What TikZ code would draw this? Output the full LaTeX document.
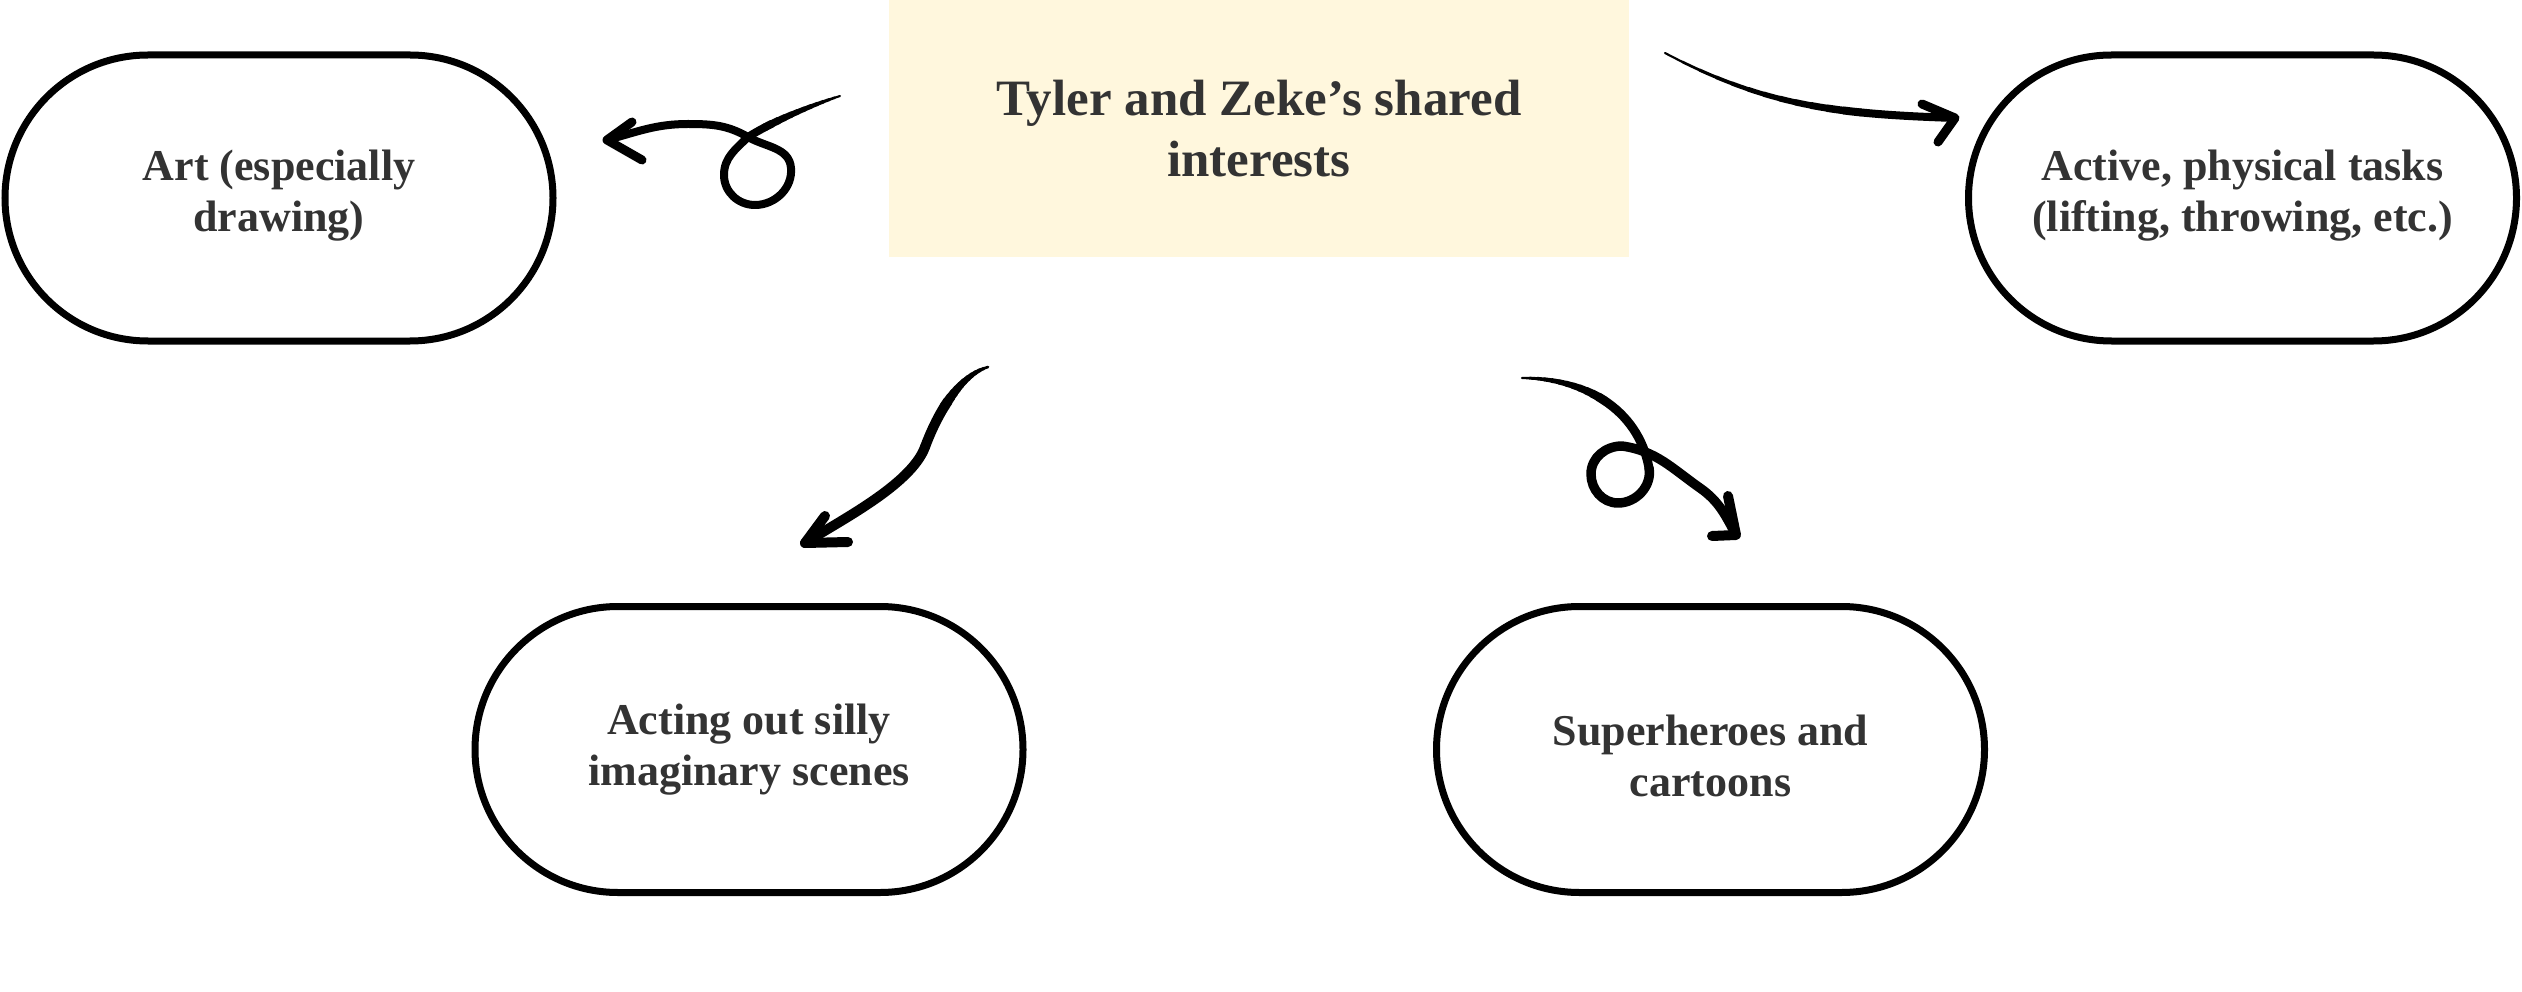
\documentclass[tikz,border=0pt]{standalone}
\usepackage{fontspec}
\setmainfont{Liberation Serif}
\definecolor{txt}{HTML}{333333}
\definecolor{cream}{HTML}{FFF7DD}
% tapered brush stroke along one cubic Bezier: #1 start, #2 ctrl1, #3 ctrl2, #4 end, #5 width, #6 taper fraction
\newcommand\brushcurve[6]{%
  \foreach \i in {1,...,12} {%
    \pgfmathsetmacro\ta{(\i-1)/12*#6}%
    \pgfmathsetmacro\tb{\i/12*#6}%
    \pgfmathsetmacro\ww{#5*(0.2+0.8*\i/12)}%
    \pgfsetlinewidth{\ww pt}%
    \pgfpathcurvebetweentime{\ta}{\tb}{\pgfpointanchor{#1}{center}}{\pgfpointanchor{#2}{center}}{\pgfpointanchor{#3}{center}}{\pgfpointanchor{#4}{center}}%
    \pgfusepath{stroke}%
  }%
  \pgfsetlinewidth{#5pt}%
  \pgfpathcurvebetweentime{#6}{1}{\pgfpointanchor{#1}{center}}{\pgfpointanchor{#2}{center}}{\pgfpointanchor{#3}{center}}{\pgfpointanchor{#4}{center}}%
  \pgfusepath{stroke}%
}
\begin{document}
\begin{tikzpicture}[x=1pt,y=1pt,
  pill/.style={draw=black, line width=7pt, rounded corners=143pt, minimum width=548pt, minimum height=286pt, inner sep=0pt},
  pilltext/.style={align=center, text=txt, font=\fontsize{44}{51}\selectfont\bfseries, inner sep=0pt, execute at end node=\strut},
  titlebox/.style={fill=cream, minimum width=740pt, minimum height=257pt, align=center, text=txt, font=\fontsize{51}{61}\selectfont\bfseries, inner sep=0pt},
  brush/.style={line cap=round, line join=round, draw=black},
]
\useasboundingbox (0,0) rectangle (2522,-992);
\fill[white] (0,0) rectangle (2522,-992);

\node[titlebox] (title) at (1259,-128.5) {Tyler and Zeke’s shared\\interests};
\node[pill] (art) at (279,-198) {};
\node[pilltext] (artlabel) at (279,-198) {Art (especially\\drawing)};
\node[pill] (active) at (2242.5,-198) {};
\node[pilltext] (activelabel) at (2242.5,-198) {Active, physical tasks\\(lifting, throwing, etc.)};
\node[pill] (acting) at (749,-749.5) {};
\node[pilltext] (actinglabel) at (749,-752.5) {Acting out silly\\imaginary scenes};
\node[pill] (super) at (1710.5,-749.5) {};
\node[pilltext] (superlabel) at (1710.5,-763) {Superheroes and\\cartoons};

% arrow 1: to Art
\coordinate (t1) at (840,-96);
\coordinate (c1a) at (815,-104);
\coordinate (c1b) at (775,-120);
\coordinate (x1) at (748,-137);
\coordinate (p1) at (607,-140);
\coordinate (p1a) at (632,-122);
\coordinate (p1b) at (642,-160);
\begin{scope}[brush]
  \brushcurve{t1}{c1a}{c1b}{x1}{8}{0.8}
\end{scope}
\draw[brush, line width=8pt] (x1) to[out=225,in=90] (724,-175) to[out=270,in=180] (755,-205) to[out=0,in=275] (791,-168) to[out=95,in=330] (x1) to[out=150,in=0] (688,-124) to[out=180,in=15] (p1);
\draw[brush, line width=9pt] (p1a) -- (p1) -- (p1b);

% arrow 2: to Active
\coordinate (t2) at (1665,-53);
\coordinate (c2a) at (1767,-107);
\coordinate (c2b) at (1839,-114);
\coordinate (p2) at (1955,-118);
\coordinate (p2a) at (1922,-104);
\coordinate (p2b) at (1938,-142);
\begin{scope}[brush]
  \brushcurve{t2}{c2a}{c2b}{p2}{8}{0.7}
\end{scope}
\draw[brush, line width=9pt] (p2a) -- (p2) -- (p2b);

% arrow 3: to Acting
\coordinate (t3) at (988,-367);
\coordinate (c3a) at (960,-375);
\coordinate (c3b) at (938,-412);
\coordinate (m3) at (925,-447);
\coordinate (c3c) at (911,-485);
\coordinate (c3d) at (839,-521);
\coordinate (p3) at (805,-543);
\coordinate (p3a) at (825,-516);
\coordinate (p3b) at (848,-542);
\begin{scope}[brush]
  \brushcurve{t3}{c3a}{c3b}{m3}{10}{0.6}
\end{scope}
\draw[brush, line width=10pt] (m3) .. controls (c3c) and (c3d) .. (p3);
\draw[brush, line width=10pt] (p3a) -- (p3) -- (p3b);

% arrow 4: to Superheroes
\coordinate (t4) at (1522,-378);
\coordinate (c4a) at (1583,-378);
\coordinate (c4b) at (1638,-408);
\coordinate (m4) at (1649,-468);
\coordinate (p4) at (1736,-535);
\coordinate (p4a) at (1728,-496);
\coordinate (p4b) at (1712,-536);
\begin{scope}[brush]
  \brushcurve{t4}{c4a}{c4b}{m4}{9}{0.5}
\end{scope}
\draw[brush, line width=9.5pt] (m4) to[out=280,in=0] (1618,-503) to[out=180,in=270] (1591,-474) to[out=90,in=180] (1622,-446) to[out=-8,in=145] (1700,-488) to[out=-35,in=118] (p4);
\draw[brush, line width=10pt] (p4a) -- (p4) -- (p4b);
\end{tikzpicture}
\end{document}
